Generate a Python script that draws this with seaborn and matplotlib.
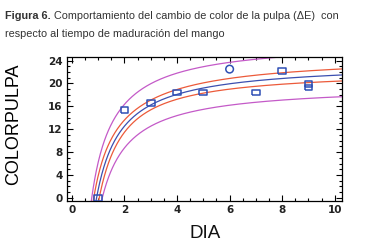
import numpy as np
import pandas as pd
import matplotlib
matplotlib.use("Agg")
import matplotlib.pyplot as plt
from matplotlib.ticker import MultipleLocator
import seaborn as sns

# ---- data ----
dia = [1, 2, 3, 4, 5, 6, 7, 8, 9, 9]
color_pulpa = [0.0, 15.4, 16.6, 18.4, 18.4, 22.5, 18.4, 22.2, 19.3, 19.9]
marker_kind = ["s", "s", "s", "s", "s", "o", "s", "s", "s", "s"]
x_ticks = [0, 2, 4, 6, 8, 10]
y_ticks = [0, 4, 8, 12, 16, 20, 24]
title_bold = "Figura 6."
title_rest = " Comportamiento del cambio de color de la pulpa (ΔE)  con"
title_line2 = "respecto al tiempo de maduración del mango"

sns.set_theme(style="white")
plt.rcParams["font.family"] = ["DejaVu Sans"]

# ---- reciprocal-X regression (y = a + b/x) with confidence and prediction limits ----
x = np.asarray(dia, float)
y = np.asarray(color_pulpa, float)
u = 1.0 / x
n = len(x)
ubar = u.mean()
Suu = ((u - ubar) ** 2).sum()
b = ((u - ubar) * (y - y.mean())).sum() / Suu
a = y.mean() - b * ubar
s = np.sqrt(((y - (a + b * u)) ** 2).sum() / (n - 2))
t_pred = 1.86   # 90 % limits
t_conf = 1.4

xg = np.linspace(0.7, 10.3, 500)
ug = 1.0 / xg
fit = a + b * ug
se_c = s * np.sqrt(1.0 / n + (ug - ubar) ** 2 / Suu)
se_p = s * np.sqrt(1.0 + 1.0 / n + (ug - ubar) ** 2 / Suu)
curves = pd.DataFrame({
    "x": np.tile(xg, 5),
    "y": np.concatenate([fit, fit + t_conf * se_c, fit - t_conf * se_c,
                         fit + t_pred * se_p, fit - t_pred * se_p]),
    "curve": np.repeat(["fit", "cu", "cl", "pu", "pl"], len(xg)),
})
palette = {"fit": "#3b4fb0", "cu": "#ec5a3a", "cl": "#ec5a3a", "pu": "#c45ac8", "pl": "#c45ac8"}

fig = plt.figure(figsize=(3.70, 2.43), dpi=100)
ax = fig.add_axes([0.180, 0.174, 0.744, 0.591])

sns.lineplot(data=curves, x="x", y="y", hue="curve", palette=palette, units="curve",
             estimator=None, sort=False, lw=0.9, legend=False, ax=ax)

pts = pd.DataFrame({"x": dia, "y": color_pulpa, "m": marker_kind})
rect = [(-1.35, -1), (1.35, -1), (1.35, 1), (-1.35, 1), (-1.35, -1)]
sns.scatterplot(data=pts[pts.m == "s"], x="x", y="y", marker=rect, s=32,
                facecolor="none", edgecolor="#2f4fb5", linewidth=1.1, ax=ax, zorder=5)
sns.scatterplot(data=pts[pts.m == "o"], x="x", y="y", marker="o", s=30,
                facecolor="none", edgecolor="#2f4fb5", linewidth=1.1, ax=ax, zorder=5)

ax.set_xlim(-0.2, 10.27)
ax.set_ylim(-0.5, 24.6)
ax.set_xticks(x_ticks)
ax.set_yticks(y_ticks)
ax.xaxis.set_minor_locator(MultipleLocator(0.5))
ax.yaxis.set_minor_locator(MultipleLocator(1))
ax.tick_params(which="both", direction="in", top=True, right=True, bottom=True, left=True,
               color="black", width=0.8)
ax.tick_params(which="major", length=4, labelsize=7.5, pad=3)
ax.tick_params(which="minor", length=2.2)
for lab in ax.get_xticklabels() + ax.get_yticklabels():
    lab.set_fontweight("bold")
    lab.set_color("#222222")
for sp in ax.spines.values():
    sp.set_color("black")
    sp.set_linewidth(0.9)

ax.set_xlabel("")
ax.set_ylabel("")
fig.text(0.555, 0.041, "DIA", ha="center", va="center", fontsize=13.5,
         family=["Liberation Sans", "DejaVu Sans"], color="#111111")
fig.text(0.036, 0.49, "COLORPULPA", rotation=90, ha="center", va="center",
         fontsize=13, family=["Liberation Sans", "DejaVu Sans"], color="black")

tf = ["Liberation Sans", "DejaVu Sans"]
fs = 7.8
t1 = fig.text(0.014, 0.935, title_bold, fontsize=fs, fontweight="bold", family=tf,
              color="#333333", va="center")
fig.canvas.draw()
bb = t1.get_window_extent()
fig.text(bb.x1 / fig.bbox.width, 0.935, title_rest, fontsize=fs, family=tf,
         color="#333333", va="center")
fig.text(0.014, 0.862, title_line2, fontsize=fs, family=tf, color="#333333", va="center")

fig.savefig("out.png", dpi=100)
